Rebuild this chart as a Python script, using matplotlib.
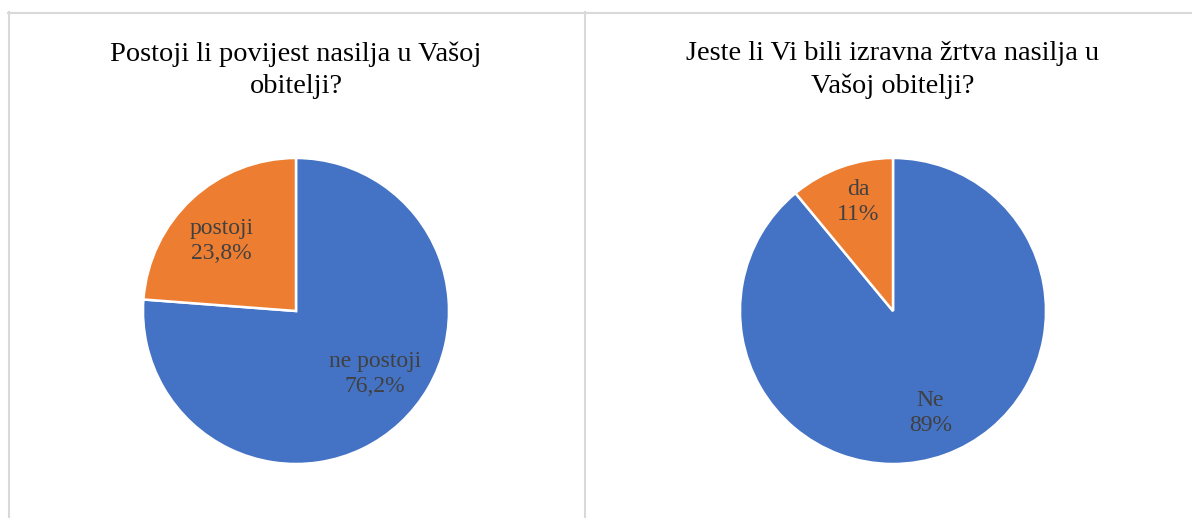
import matplotlib
matplotlib.use("Agg")
import matplotlib.pyplot as plt
from matplotlib.lines import Line2D
import numpy as np

# data
titles = ["Postoji li povijest nasilja u Vašoj\nobitelji?",
          "Jeste li Vi bili izravna žrtva nasilja u\nVašoj obitelji?"]
labels_left = ["ne postoji", "postoji"]
values_left = [76.2, 23.8]
pct_left = ["76,2%", "23,8%"]
labels_right = ["Ne", "da"]
values_right = [89, 11]
pct_right = ["89%", "11%"]

COLORS = ["#4472C4", "#ED7D31"]
TEXT = "#404040"
BORDER = "#D9D9D9"
SERIF = ["Liberation Serif", "DejaVu Serif"]

W, H = 1192, 518
fig = plt.figure(figsize=(W / 100, H / 100), dpi=100)
fig.patch.set_facecolor("white")

# panel borders
for xs, ys in (([8, W], [12.5, 12.5]), ([8.5, 8.5], [12, H]),
               ([584.5, 584.5], [12, H])):
    fig.add_artist(Line2D([x / W for x in xs], [1 - y / H for y in ys],
                          color=BORDER, linewidth=1.5))


def draw_pie(cx, cy, r, title, labels, values, pcts, label_pos):
    ax = fig.add_axes([(cx - r) / W, (H - cy - r) / H, 2 * r / W, 2 * r / H])
    ax.pie(values, colors=COLORS, startangle=90, counterclock=False,
           radius=1, wedgeprops=dict(edgecolor="white", linewidth=1.8))
    ax.set_xlim(-1, 1)
    ax.set_ylim(-1, 1)
    ax.set_aspect("equal")
    ax.axis("off")
    for lab, p, (rf, ang) in zip(labels, pcts, label_pos):
        a = np.deg2rad(ang)
        ax.text(rf * np.cos(a), rf * np.sin(a), f"{lab}\n{p}",
                ha="center", va="center", color=TEXT, fontsize=17,
                family=SERIF, linespacing=1.25)
    fig.text(cx / W, 1 - 70 / H, title, ha="center", va="center",
             fontsize=20.4, family=SERIF, color="black", linespacing=1.38)


draw_pie(296, 311, 153, titles[0], labels_left, values_left, pct_left,
         [(0.66, -38.6), (0.67, 136.6)])
draw_pie(893, 311, 153, titles[1], labels_right, values_right, pct_right,
         [(0.71, -70), (0.75, 107.8)])

fig.savefig("out.png", dpi=100, facecolor="white")
